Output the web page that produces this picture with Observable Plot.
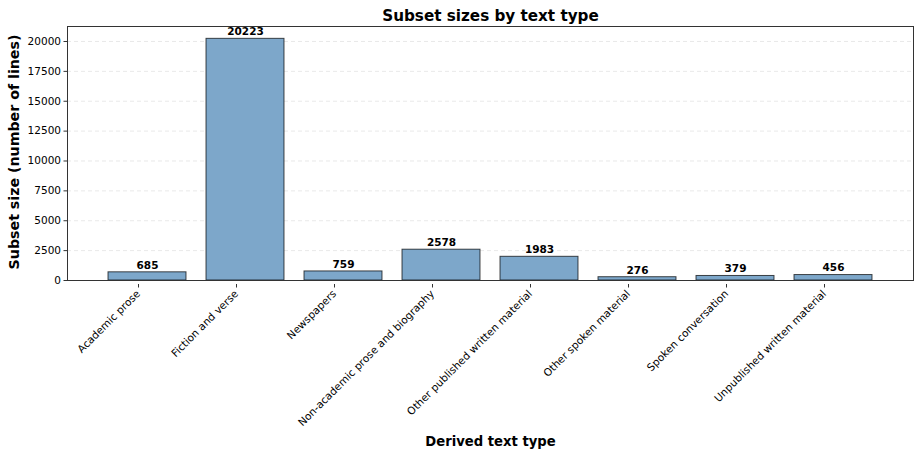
<!DOCTYPE html>
<html>
<head>
<meta charset="utf-8">
<script src="https://cdn.jsdelivr.net/npm/d3@7"></script>
<script src="https://cdn.jsdelivr.net/npm/@observablehq/plot@0.6"></script>
<style>
  body { margin: 0; background: white; }
  svg { font-family: "DejaVu Sans", sans-serif; }
</style>
</head>
<body>
<div id="chart"></div>
<script>
const categories = ["Academic prose", "Fiction and verse", "Newspapers", "Non-academic prose and biography", "Other published written material", "Other spoken material", "Spoken conversation", "Unpublished written material"];
const values = [685, 20223, 759, 2578, 1983, 276, 379, 456];
const yTicks = [0, 2500, 5000, 7500, 10000, 12500, 15000, 17500, 20000];
const title = "Subset sizes by text type";
const xLabel = "Derived text type";
const yLabel = "Subset size (number of lines)";

const data = categories.map((c, i) => ({category: c, value: values[i]}));

const chart = Plot.plot({
  width: 922,
  height: 457,
  marginLeft: 67,
  marginRight: 9,
  marginTop: 26,
  marginBottom: 177,
  style: {fontFamily: "DejaVu Sans, sans-serif", fontSize: "10px", color: "black", background: "white"},
  x: {domain: categories, paddingInner: 0.2, paddingOuter: 0.39, label: null},
  y: {domain: [0, 21255], label: null},
  marks: [
    Plot.gridY(yTicks, {stroke: "#b0b0b0", strokeOpacity: 0.35, strokeDasharray: "4,3", strokeWidth: 0.8}),
    Plot.barY(data, {x: "category", y: "value", fill: "#7da7ca", stroke: "#000", strokeOpacity: 0.7, strokeWidth: 1}),
    Plot.text(data, {x: "category", y: "value", text: d => String(d.value), dy: -7, fontWeight: "bold", fontSize: 10.5, fill: "black"}),
    Plot.axisY(yTicks, {tickSize: 3.5, tickPadding: 3, tickFormat: d => String(d), fontSize: 10.5, label: null, stroke: "#333"}),
    Plot.axisX({tickSize: 3.5, tickRotate: -45, tickPadding: 4, fontSize: 10.5, label: null, stroke: "#333", dx: -9, dy: 4}),
    Plot.frame({stroke: "#333", strokeWidth: 1}),
    Plot.text([title], {frameAnchor: "top", lineAnchor: "bottom", dy: -6, fontSize: 15.2, fontWeight: "bold", fill: "black"}),
    Plot.text([xLabel], {frameAnchor: "bottom", lineAnchor: "middle", dy: 161, fontSize: 13.2, fontWeight: "bold", fill: "black"}),
    Plot.text([yLabel], {frameAnchor: "left", textAnchor: "middle", lineAnchor: "middle", dx: -53, dy: -1.5, rotate: -90, fontSize: 14.2, fontWeight: "bold", fill: "black"})
  ]
});
document.getElementById("chart").appendChild(chart);
</script>
</body>
</html>
